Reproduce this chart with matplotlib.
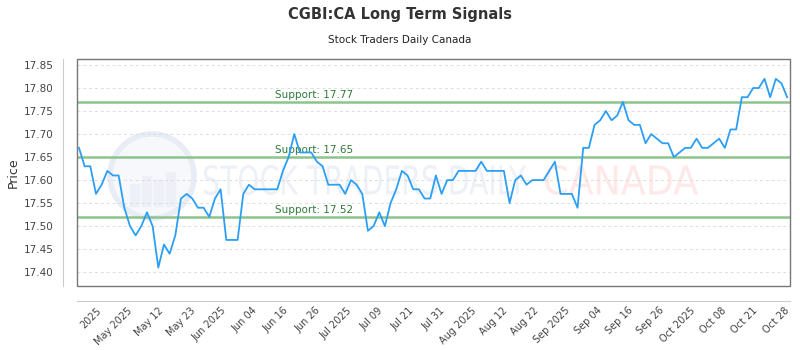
import matplotlib
matplotlib.use("Agg")
import matplotlib.pyplot as plt
from matplotlib.patches import Rectangle, Ellipse, PathPatch
from matplotlib.textpath import TextPath
from matplotlib.font_manager import FontProperties
from matplotlib.transforms import Affine2D
import numpy as np

# closing prices, one per trading day
prices = [
    17.67, 17.63, 17.63, 17.57, 17.59, 17.62, 17.61, 17.61, 17.54, 17.50,
    17.48, 17.50, 17.53, 17.50, 17.41, 17.46, 17.44, 17.48, 17.56, 17.57,
    17.56,
    17.54, 17.54, 17.52, 17.56, 17.58, 17.47, 17.47, 17.47, 17.57, 17.59,
    17.58, 17.58, 17.58, 17.58, 17.58, 17.62, 17.65, 17.70, 17.66, 17.66,
    17.66, 17.64, 17.63, 17.59, 17.59, 17.59, 17.57, 17.60, 17.59, 17.57,
    17.49, 17.50, 17.53, 17.50, 17.55, 17.58, 17.62, 17.61, 17.58, 17.58,
    17.56,
    17.56, 17.61, 17.57, 17.60, 17.60, 17.62, 17.62, 17.62, 17.62, 17.64,
    17.62, 17.62, 17.62, 17.62, 17.55, 17.60, 17.61, 17.59, 17.60, 17.60,
    17.60,
    17.62, 17.64, 17.57, 17.57, 17.57, 17.54, 17.67, 17.67, 17.72, 17.73,
    17.75, 17.73, 17.74, 17.77, 17.73, 17.72, 17.72, 17.68, 17.70, 17.69,
    17.68, 17.68, 17.65, 17.66, 17.67, 17.67, 17.69, 17.67, 17.67, 17.68,
    17.69, 17.67, 17.71, 17.71, 17.78, 17.78, 17.80, 17.80, 17.82, 17.78,
    17.82, 17.81, 17.78,
]

tick_labels = ["2025", "May 2025", "May 12", "May 23", "Jun 2025", "Jun 04",
               "Jun 16", "Jun 26", "Jul 2025", "Jul 09", "Jul 21", "Jul 31",
               "Aug 2025", "Aug 12", "Aug 22", "Sep 2025", "Sep 04", "Sep 16",
               "Sep 26", "Oct 2025", "Oct 08", "Oct 21", "Oct 28"]

support_levels = [17.77, 17.65, 17.52]
y_ticks = [17.40, 17.45, 17.50, 17.55, 17.60, 17.65, 17.70, 17.75, 17.80, 17.85]

title = "CGBI:CA Long Term Signals"
subtitle = "Stock Traders Daily Canada"

plt.rcParams["font.family"] = ["DejaVu Sans"]

W, H = 800, 350
fig = plt.figure(figsize=(8, 3.5), dpi=100)
ax = fig.add_axes([77 / W, 1 - 286 / H, 713 / W, 227 / H])


def stretched_text(s, x0, x1, y_top, y_bot, color):
    # squeeze a text path into a pixel box (watermark needs a narrow face)
    tp = TextPath((0, 0), s, size=1, prop=FontProperties(family="DejaVu Sans"))
    ext = tp.get_extents()
    sx = (x1 - x0) / ext.width
    sy = (y_bot - y_top) / ext.height
    tr = Affine2D().translate(-ext.x0, -ext.y0).scale(sx, sy).translate(x0, H - y_bot)
    fig.add_artist(PathPatch(tp, transform=tr, facecolor=color, edgecolor="none", zorder=0))


# watermark
logo = Ellipse((152 / W, 1 - 176 / H), 84 / W, 84 / H, transform=fig.transFigure,
               facecolor="#f6f8fc", edgecolor="#e8ecf4", lw=4, zorder=0)
fig.add_artist(logo)
for bx, bh in zip([130, 142, 154, 166], [22, 30, 26, 34]):
    fig.add_artist(Rectangle((bx / W, 1 - 206 / H), 9 / W, bh / H,
                             transform=fig.transFigure, color="#edf0f6", zorder=0))
stretched_text("STOCK TRADERS DAILY", 204, 526, 165, 195, "#edf1f7")
stretched_text("CANADA", 545, 698, 165, 195, "#fee8e8")

ax.patch.set_alpha(0)

for side in ["top", "right"]:
    ax.spines[side].set_visible(False)
ax.spines["left"].set_position(("outward", 10))
ax.spines["bottom"].set_position(("outward", 11))
ax.spines["left"].set_color("#cccccc")
ax.spines["bottom"].set_color("#cccccc")

for lvl in y_ticks:
    ax.axhline(lvl, color="#dddddd", lw=0.7, ls=(0, (3, 3)), zorder=1)

for lvl in support_levels:
    ax.axhline(lvl, color="#8cc48c", lw=1.8, zorder=2)
    ax.text(0.278, lvl + 0.004, f"Support: {lvl:.2f}", transform=ax.get_yaxis_transform(),
            color="#2f7a3a", fontsize=7.5, ha="left", va="bottom", zorder=3)

x = np.arange(len(prices))
ax.plot(x, prices, color="#2c9ff5", lw=1.3, zorder=4)

ax.set_xlim(-0.35, len(prices) - 0.5)
ax.set_ylim(17.37, 17.863)
ax.set_yticks(y_ticks)
ax.set_yticklabels([f"{v:.2f}" for v in y_ticks])

tick_pos = 3.0 + 5.52 * np.arange(len(tick_labels))
ax.set_xticks(tick_pos)
ax.set_xticklabels(tick_labels)

ax.tick_params(axis="both", length=0, labelcolor="#444444")
ax.tick_params(axis="y", pad=7, labelsize=7.5)
ax.tick_params(axis="x", pad=3, labelsize=7, labelrotation=45)
for lab in ax.get_xticklabels():
    lab.set_ha("right")
    lab.set_rotation_mode("anchor")

ax.add_patch(Rectangle((0, 0), 1, 1, transform=ax.transAxes, fill=False,
                       edgecolor="#777777", lw=1, clip_on=False, zorder=5))

ax.set_ylabel("Price", fontsize=9, color="#333333", labelpad=3)

fig.text(0.5, 1 - 15 / H, title, ha="center", va="center", fontsize=10.5,
         fontweight="bold", color="#333333")
fig.text(0.5, 1 - 40 / H, subtitle, ha="center", va="center", fontsize=7.5,
         color="#222222")

fig.savefig("out.png", dpi=100)
